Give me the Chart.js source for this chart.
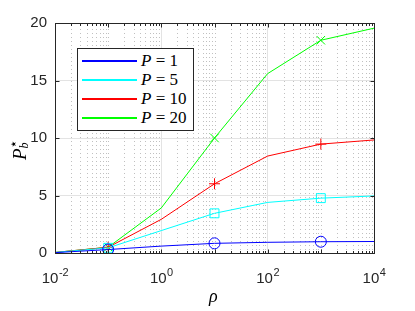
<!DOCTYPE html>
<html>
<head>
<meta charset="utf-8">
<script src="https://cdn.jsdelivr.net/npm/chart.js@4"></script>
<style>
  body { margin: 0; background: #fff; }
  #wrap { position: relative; width: 415px; height: 311px; }
  #legend {
    position: absolute; left: 77px; top: 48px; width: 115px; height: 81px;
    background: #fff; border: 1px solid #262626;
    font-family: "Liberation Serif", "DejaVu Serif", serif; font-size: 17px; color: #000;
  }
  .row { position: absolute; left: 0; height: 19px; line-height: 19px; }
  .row .ln { position: absolute; left: 4px; width: 55px; top: 9px; height: 2px; }
  .row .tx { position: absolute; left: 63px; top: 0; white-space: nowrap; }
  #xtitle { position: absolute; left: 209px; top: 286px; font: italic 18px "Liberation Serif", serif; }
  #ytitle {
    position: absolute; left: 2px; top: 130px; transform: rotate(-90deg); transform-origin: 18px 12px;
    font: italic 19px "Liberation Serif", serif; white-space: nowrap;
  }
</style>
</head>
<body>
<div id="wrap">
  <canvas id="chart" width="415" height="311"></canvas>
  <div id="legend"></div>
  <div id="xtitle">ρ</div>
  <div id="ytitle">P<span style="display:inline-block;vertical-align:-2px;line-height:10px;font-size:12px;margin-left:0px"><span style="font-style:normal;font-family:'DejaVu Sans';font-size:14px">⋆</span><br>b</span></div>
</div>
<script>
// rho values (log axis)
const rho = [0.01, 0.1, 1, 10, 100, 1000, 10000];
// P_b^* for each P
const p1 = [0.03, 0.3, 0.6, 0.84, 0.93, 0.98, 1.0];
const p5 = [0.05, 0.45, 1.95, 3.45, 4.4, 4.77, 4.96];
const p10 = [0.05, 0.5, 2.93, 6.02, 8.43, 9.47, 9.83];
const p20 = [0.05, 0.5, 3.92, 10.0, 15.6, 18.5, 19.55];
const seriesNames = ['P = 1', 'P = 5', 'P = 10', 'P = 20'];
const seriesColors = ['#0000ff', '#00ffff', '#ff0000', '#00ff00'];
const markerStyles = ['circle', 'rect', 'cross', 'crossRot'];
const markerSizes = [5.5, 6.3, 5.5, 6];
const xLabelExps = [-2, 0, 2, 4];
const yTicks = [0, 5, 10, 15, 20];

const allSeries = [p1, p5, p10, p20];
const axisColor = '#262626';

// legend box
const legend = document.getElementById('legend');
seriesNames.forEach((name, i) => {
  const parts = name.split(' ');
  legend.insertAdjacentHTML('beforeend',
    `<div class="row" style="top:${2 + i * 19}px">
       <div class="ln" style="background:${seriesColors[i]}"></div>
       <div class="tx"><i>${parts[0]}</i> ${parts[1]} ${parts[2]}</div>
     </div>`);
});

// minor grid, box, inward ticks and superscript labels
const decorPlugin = {
  id: 'decor',
  beforeDatasetsDraw(chart) {
    const { ctx, chartArea: a, scales: { x } } = chart;
    ctx.save();
    ctx.strokeStyle = '#c0c0c0';
    ctx.lineWidth = 1;
    ctx.setLineDash([1, 3]);
    for (let e = -2; e < 4; e++) {
      for (let m = 1; m <= 9; m++) {
        if (m === 1 && e % 2 === 0) continue;
        const px = Math.round(x.getPixelForValue(m * Math.pow(10, e))) + 0.5;
        ctx.beginPath();
        ctx.moveTo(px, a.top + 2);
        ctx.lineTo(px, a.bottom);
        ctx.stroke();
      }
    }
    ctx.restore();
  },
  afterDraw(chart) {
    const { ctx, chartArea: a, scales: { x, y } } = chart;
    ctx.save();
    ctx.strokeStyle = axisColor;
    ctx.lineWidth = 1;
    const l = Math.round(a.left) + 0.5, r = Math.round(a.right) + 0.5;
    const t = Math.round(a.top) + 0.5, b = Math.round(a.bottom) + 0.5;
    ctx.strokeRect(l, t, r - l, b - t);
    ctx.beginPath();
    for (let e = -2; e < 4; e++) {
      for (let m = 1; m <= 9; m++) {
        const px = Math.round(x.getPixelForValue(m * Math.pow(10, e))) + 0.5;
        const len = m === 1 ? 4 : 2.5;
        ctx.moveTo(px, b); ctx.lineTo(px, b - len);
        ctx.moveTo(px, t); ctx.lineTo(px, t + len);
      }
    }
    yTicks.forEach(v => {
      const py = Math.round(y.getPixelForValue(v)) + 0.5;
      ctx.moveTo(l, py); ctx.lineTo(l + 4, py);
      ctx.moveTo(r, py); ctx.lineTo(r - 4, py);
    });
    ctx.stroke();

    // x tick labels 10^k
    ctx.fillStyle = axisColor;
    ctx.textBaseline = 'alphabetic';
    xLabelExps.forEach(k => {
      const px = x.getPixelForValue(Math.pow(10, k));
      ctx.font = '15px "Liberation Sans", Arial, sans-serif';
      const wBase = ctx.measureText('10').width;
      ctx.font = '11px "Liberation Sans", Arial, sans-serif';
      const expStr = k < 0 ? '-' + (-k) : String(k);
      const wExp = ctx.measureText(expStr).width;
      const x0 = px - (wBase + wExp) / 2;
      ctx.font = '15px "Liberation Sans", Arial, sans-serif';
      ctx.fillText('10', x0, 283);
      ctx.font = '11px "Liberation Sans", Arial, sans-serif';
      ctx.fillText(expStr, x0 + wBase + 0.5, 276);
    });
    ctx.restore();
  }
};

const datasets = allSeries.map((vals, i) => ({
  label: seriesNames[i],
  data: rho.map((r, j) => ({ x: r, y: vals[j] })),
  borderColor: seriesColors[i],
  backgroundColor: 'transparent',
  borderWidth: 1,
  showLine: true,
  pointStyle: markerStyles[i],
  pointBorderColor: seriesColors[i],
  pointBorderWidth: 1,
  pointRadius: ctx => [1, 3, 5].includes(ctx.dataIndex) ? markerSizes[i] : 0,
  pointHoverRadius: 0,
}));

new Chart(document.getElementById('chart'), {
  type: 'scatter',
  data: { datasets },
  options: {
    responsive: false,
    animation: false,
    layout: { padding: { top: 23, right: 41, left: 0, bottom: 0 } },
    plugins: { legend: { display: false }, tooltip: { enabled: false } },
    scales: {
      x: {
        type: 'logarithmic',
        min: 0.01,
        max: 10000,
        afterBuildTicks: scale => {
          scale.ticks = xLabelExps.map(k => ({ value: Math.pow(10, k) }));
        },
        afterFit: scale => { scale.height = 58; },
        ticks: { display: false },
        grid: { color: '#e3e3e3', drawTicks: false },
        border: { display: false },
      },
      y: {
        min: 0,
        max: 20,
        afterBuildTicks: scale => {
          scale.ticks = yTicks.map(v => ({ value: v }));
        },
        afterFit: scale => { scale.width = 55; },
        ticks: {
          color: axisColor,
          padding: 8,
          font: { family: '"Liberation Sans", Arial, sans-serif', size: 15 },
        },
        grid: { color: '#e3e3e3', drawTicks: false },
        border: { display: false },
      },
    },
  },
  plugins: [decorPlugin],
});
</script>
</body>
</html>
